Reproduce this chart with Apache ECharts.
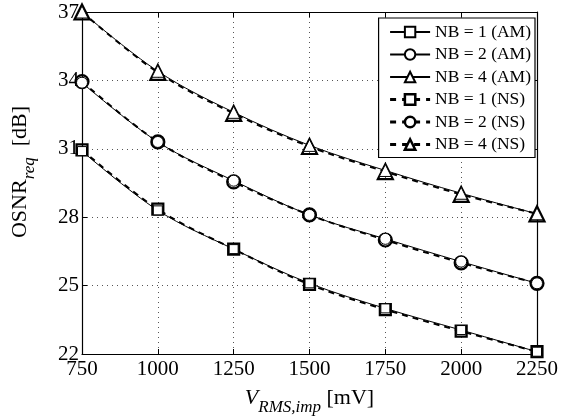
<!DOCTYPE html>
<html><head><meta charset="utf-8">
<script src="https://cdn.jsdelivr.net/npm/echarts@6/dist/echarts.min.js"></script>
<style>html,body{margin:0;padding:0;background:#fff}#c{width:570px;height:419px}</style>
</head><body><div id="c"></div>
<script>
const xValues = [750, 1000, 1250, 1500, 1750, 2000, 2250];
const yTicks = [22, 25, 28, 31, 34, 37];
const nb1AM = [30.9, 28.3, 26.6, 25.1, 24.0, 23.05, 22.1];
const nb2AM = [33.9, 31.3, 29.6, 28.1, 27.05, 26.05, 25.1];
const nb4AM = [37.0, 34.4, 32.6, 31.15, 30.05, 29.05, 28.15];
const nb1NS = [30.95, 28.35, 26.6, 25.05, 23.95, 23.0, 22.1];
const nb2NS = [33.95, 31.3, 29.55, 28.1, 27.0, 26.0, 25.1];
const nb4NS = [37.0, 34.35, 32.55, 31.1, 30.0, 29.0, 28.15];
const legendNames = ['NB = 1 (AM)','NB = 2 (AM)','NB = 4 (AM)','NB = 1 (NS)','NB = 2 (NS)','NB = 4 (NS)'];

const font = 'Liberation Serif';
function pairs(arr){ return xValues.map((x,i)=>[x,arr[i]]); }
function am(name, data, sym, size){
  return {name, type:'line', data:pairs(data), smooth:0.35, symbol:sym, symbolSize:size,
    lineStyle:{color:'#000', width:1}, itemStyle:{color:'#fff', borderColor:'#000', borderWidth:1},
    z:3};
}
function ns(name, data, sym, size){
  return {name, type:'line', data:pairs(data), smooth:0.35, symbol:sym, symbolSize:size,
    lineStyle:{color:'#000', width:2, type:[6,5]}, itemStyle:{color:'rgba(255,255,255,0)', borderColor:'#000', borderWidth:2.2},
    z:2};
}
const chart = echarts.init(document.getElementById('c'), null, {renderer:'canvas'});
const axisCommon = {
  axisLine:{show:true, onZero:false, lineStyle:{color:'#000', width:1.2}},
  axisTick:{show:true, inside:true, length:5, lineStyle:{color:'#000'}},
};
chart.setOption({
  animation:false,
  backgroundColor:'#fff',
  grid:{left:82, right:33, top:12, bottom:65, containLabel:false, outerBoundsMode:'none'},
  legend:{
    orient:'vertical', right:35, top:18, itemWidth:40, itemHeight:13, itemGap:4.5,
    backgroundColor:'#fff', borderColor:'#000', borderWidth:1.2, padding:[5,4,4,10],
    textStyle:{fontFamily:font, fontSize:17.5, color:'#000'},
    data: legendNames.map((n,i)=> i<3 ? {name:n} :
      {name:n, itemStyle:{borderWidth:2.5, color:'#fff', borderColor:'#000'}, lineStyle:{width:3, type:[6,6], color:'#000'}})
  },
  xAxis:[{
    type:'value', min:750, max:2250, interval:250,
    ...axisCommon,
    axisLabel:{fontFamily:font, fontSize:21, color:'#000', margin:5, formatter:v=>String(v)},
    splitLine:{show:true, lineStyle:{color:'#555', type:[1,4], width:1}},
    name:'{i|V}{sub|RMS,imp} [mV]', nameLocation:'middle', nameGap:27,
    nameTextStyle:{fontFamily:font, fontSize:22, color:'#000',
      rich:{i:{fontFamily:font, fontStyle:'italic', fontSize:22, color:'#000'},
            sub:{fontFamily:font, fontStyle:'italic', fontSize:17, color:'#000', padding:[18,0,0,0]}}}
  },{
    type:'value', min:750, max:2250, interval:250, position:'top',
    ...axisCommon, axisLabel:{show:false}, splitLine:{show:false}
  }],
  yAxis:[{
    type:'value', min:22, max:37,
    ...axisCommon,
    axisTick:{show:true, inside:true, length:5, lineStyle:{color:'#000'}, customValues:yTicks},
    axisLabel:{fontFamily:font, fontSize:21, color:'#000', margin:3, customValues:yTicks},
    splitLine:{show:true, lineStyle:{color:'#555', type:[1,4], width:1}},
    name:'OSNR{sub|req}  [dB]', nameLocation:'middle', nameGap:44,
    nameTextStyle:{fontFamily:font, fontSize:22, color:'#000', padding:[0,0,0,22],
      rich:{sub:{fontFamily:font, fontStyle:'italic', fontSize:17, color:'#000', padding:[18,0,0,0]}}}
  },{
    type:'value', min:22, max:37, position:'right',
    ...axisCommon,
    axisTick:{show:true, inside:true, length:5, lineStyle:{color:'#000'}, customValues:yTicks},
    axisLabel:{show:false, customValues:yTicks}, splitLine:{show:false}
  }],
  series:[
    am(legendNames[0], nb1AM, 'rect', 9),
    am(legendNames[1], nb2AM, 'circle', 11),
    am(legendNames[2], nb4AM, 'triangle', 12),
    ns(legendNames[3], nb1NS, 'rect', 11),
    ns(legendNames[4], nb2NS, 'circle', 13),
    ns(legendNames[5], nb4NS, 'triangle', 15)
  ]
});
</script></body></html>
